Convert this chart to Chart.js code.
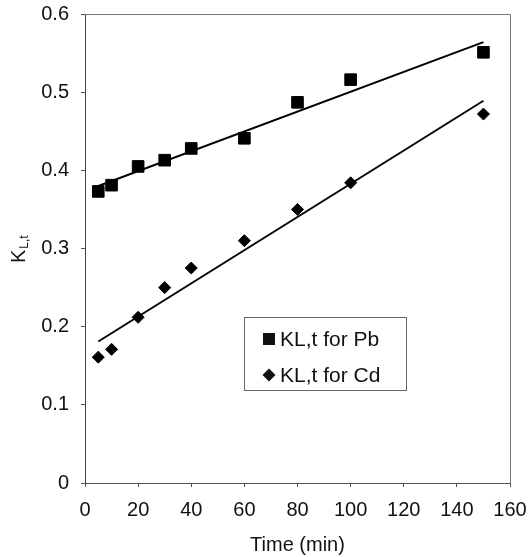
<!DOCTYPE html>
<html>
<head>
<meta charset="utf-8">
<script src="https://cdn.jsdelivr.net/npm/chart.js@4/dist/chart.umd.min.js"></script>
<style>
  html, body { margin: 0; padding: 0; background: #fff; }
  canvas { display: block; }
</style>
</head>
<body>
<canvas id="kinetics" width="528" height="557"></canvas>
<script>
/* =================================================================
    Data
================================================================= */

var times = [5, 10, 20, 30, 40, 60, 80, 100, 150];
var pbValues = [0.373, 0.381, 0.405, 0.413, 0.428, 0.441, 0.487, 0.516, 0.551];
var cdValues = [0.161, 0.171, 0.212, 0.250, 0.275, 0.310, 0.350, 0.384, 0.472];

// fitted lines, read at both ends
var fitTimes = [5, 150];
var pbFit = [0.380, 0.564];
var cdFit = [0.181, 0.489];

var xTicks = [0, 20, 40, 60, 80, 100, 120, 140, 160];
var yTicks = [0, 0.1, 0.2, 0.3, 0.4, 0.5, 0.6];

var FONT = "'Liberation Sans', Arial, Helvetica, sans-serif";

function toPoints(xs, ys) {
    return xs.map(function (x, i) { return { x: x, y: ys[i] }; });
}

// labels may hang past the plot edges, keep the area fixed
function noOverflow(scale) {
    scale.paddingTop = 0;
    scale.paddingBottom = 0;
    scale.paddingLeft = 0;
    scale.paddingRight = 0;
}

/* =================================================================
    Plugins
================================================================= */

var whiteBg = {
    id: 'whiteBg',
    beforeDraw: function (chart) {
        var c = chart.ctx;
        c.save();
        c.fillStyle = '#fff';
        c.fillRect(0, 0, chart.width, chart.height);
        c.restore();
    }
};

// top and right edges of the plot frame
var frame = {
    id: 'frame',
    beforeDatasetsDraw: function (chart) {
        var a = chart.chartArea;
        var c = chart.ctx;
        c.save();
        c.strokeStyle = '#777';
        c.lineWidth = 1;
        c.beginPath();
        c.moveTo(a.left, a.top + 0.5);
        c.lineTo(a.right + 0.5, a.top + 0.5);
        c.lineTo(a.right + 0.5, a.bottom);
        c.stroke();
        c.restore();
    }
};

// y title with subscript: K(L,t)
var yTitle = {
    id: 'yTitle',
    afterDraw: function (chart) {
        var c = chart.ctx;
        c.save();
        c.translate(25, 263);
        c.rotate(-Math.PI / 2);
        c.fillStyle = '#111';
        c.textBaseline = 'alphabetic';
        c.textAlign = 'left';
        c.font = '20px ' + FONT;
        c.fillText('K', 0, 0);
        var w = c.measureText('K').width;
        c.font = '12px ' + FONT;
        c.fillText('L,t', w + 1, 3);
        c.restore();
    }
};

// boxed legend sitting inside the plot
var boxLegend = {
    id: 'boxLegend',
    afterDraw: function (chart) {
        var c = chart.ctx;
        var a = chart.chartArea;
        var bx = a.left + 159, by = a.top + 303, bw = 162, bh = 73;
        c.save();
        c.strokeStyle = '#666';
        c.lineWidth = 1;
        c.strokeRect(bx + 0.5, by + 0.5, bw, bh);

        var rows = [chart.data.datasets[0], chart.data.datasets[1]];
        c.font = '21px ' + FONT;
        c.textBaseline = 'middle';
        c.textAlign = 'left';
        c.fillStyle = '#111';
        rows.forEach(function (ds, i) {
            var cy = by + 22 + i * 36;
            var mx = bx + 25;
            if (ds.pointStyle === 'rect') {
                c.fillRect(mx - 6, cy - 6, 12, 12);
            } else {
                c.beginPath();
                c.moveTo(mx - 6.5, cy);
                c.lineTo(mx, cy - 6.5);
                c.lineTo(mx + 6.5, cy);
                c.lineTo(mx, cy + 6.5);
                c.closePath();
                c.fill();
            }
            c.fillText(ds.label, bx + 36, cy + 1);
        });
        c.restore();
    }
};

/* =================================================================
    Chart
================================================================= */

var ctx = document.getElementById('kinetics');

var myChart = new Chart(ctx, {
    type: 'scatter',
    data: {
        datasets: [{
            label: 'KL,t for Pb',
            data: toPoints(times, pbValues),
            pointStyle: 'rect',
            pointRadius: 8.2,
            backgroundColor: '#000',
            borderColor: '#000',
            borderWidth: 1,
            showLine: false
        }, {
            label: 'KL,t for Cd',
            data: toPoints(times, cdValues),
            pointStyle: 'rectRot',
            pointRadius: 6,
            backgroundColor: '#000',
            borderColor: '#000',
            borderWidth: 1,
            showLine: false
        }, {
            label: 'Pb fit',
            data: toPoints(fitTimes, pbFit),
            showLine: true,
            pointRadius: 0,
            borderColor: '#000',
            borderWidth: 2
        }, {
            label: 'Cd fit',
            data: toPoints(fitTimes, cdFit),
            showLine: true,
            pointRadius: 0,
            borderColor: '#000',
            borderWidth: 2
        }]
    },
    options: {
        responsive: false,
        animation: false,
        layout: { padding: { top: 14, right: 18, left: 0, bottom: 0 } },
        plugins: {
            legend: { display: false },
            tooltip: { enabled: false }
        },
        scales: {
            x: {
                type: 'linear',
                min: 0,
                max: 160,
                afterBuildTicks: function (scale) {
                    scale.ticks = xTicks.map(function (v) { return { value: v }; });
                },
                afterFit: function (scale) {
                    scale.height = 74;
                    noOverflow(scale);
                },
                grid: { drawOnChartArea: false, drawTicks: true, tickLength: 4, color: '#555' },
                border: { display: true, color: '#555', width: 1 },
                ticks: {
                    color: '#111',
                    padding: 11,
                    maxRotation: 0,
                    font: { family: FONT, size: 20 }
                },
                title: {
                    display: true,
                    text: 'Time (min)',
                    color: '#111',
                    padding: { top: 0, bottom: 0 },
                    font: { family: FONT, size: 20 }
                }
            },
            y: {
                type: 'linear',
                min: 0,
                max: 0.6,
                afterBuildTicks: function (scale) {
                    scale.ticks = yTicks.map(function (v) { return { value: v }; });
                },
                afterFit: function (scale) {
                    scale.width = 85;
                    noOverflow(scale);
                },
                grid: { drawOnChartArea: false, drawTicks: true, tickLength: 4, color: '#555' },
                border: { display: true, color: '#444', width: 1 },
                ticks: {
                    color: '#111',
                    padding: 12,
                    font: { family: FONT, size: 20 },
                    callback: function (v) { return String(Math.round(v * 10) / 10); }
                }
            }
        }
    },
    plugins: [whiteBg, frame, yTitle, boxLegend]
});
</script>
</body>
</html>
